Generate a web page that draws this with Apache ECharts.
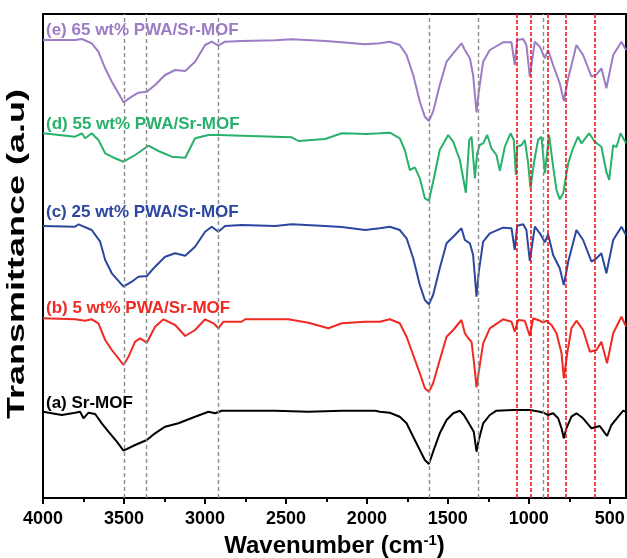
<!DOCTYPE html>
<html><head><meta charset="utf-8">
<script src="https://cdn.jsdelivr.net/npm/echarts@6/dist/echarts.min.js"></script>
<style>html,body{margin:0;padding:0;background:#fff}#c{width:627px;height:558px}</style>
</head><body><div id="c"></div>
<script>
// Wavenumber (cm-1) vs transmittance (a.u., curves vertically offset)
const specA = [[4000,86.3],[3884,83],[3802,85.3],[3771,86.3],[3750,79.7],[3719,85.3],[3678,84],[3637,74.7],[3596,66.3],[3544,56.3],[3503,47.3],[3431,53],[3359,58],[3308,64.7],[3246,71.3],[3164,74.7],[3061,81.3],[2978,86.3],[2937,84.7],[2896,87.3],[2773,87.3],[2567,87.3],[2361,86.3],[2155,87.3],[1949,87.3],[1920,86.3],[1858,85.3],[1797,81.3],[1755,74.7],[1714,61.3],[1673,48],[1642,38],[1617,34],[1591,46.3],[1550,64.7],[1508,78],[1467,84.7],[1426,87.3],[1401,83],[1364,73],[1340,66.3],[1323,46.3],[1309,58],[1282,74.7],[1241,83],[1200,87.3],[1097,88],[994,88],[932,86.3],[901,84.7],[881,83],[850,84.7],[819,79.7],[798,69.7],[784,59.7],[768,69.7],[737,81.3],[706,84.7],[665,79.7],[613,69.7],[562,72],[537,66.3],[517,62],[490,73],[448,81.3],[417,87.3],[400,86.3]];
const specB = [[4000,179.7],[3802,178.7],[3740,177.3],[3699,178.7],[3658,174.7],[3616,158],[3575,148],[3534,139.7],[3503,133],[3472,141.3],[3431,156.3],[3400,159.7],[3359,155.3],[3308,171.3],[3256,178.7],[3184,173],[3122,162],[3061,168],[2999,178.7],[2947,174.7],[2917,169.7],[2886,176.3],[2773,176.3],[2752,178.7],[2567,178.7],[2485,178.7],[2361,175.3],[2238,169.7],[2155,174.7],[2011,176.3],[1920,176.3],[1858,178.7],[1797,174.7],[1755,161.3],[1714,143],[1673,124.7],[1642,109.7],[1617,106.3],[1591,114.7],[1550,138],[1508,161.3],[1467,168],[1416,178],[1395,164.7],[1374,159.7],[1354,156.3],[1338,134.7],[1323,110.7],[1309,126.3],[1282,154.7],[1241,169.7],[1159,178.7],[1107,176.3],[1087,166.3],[1066,178],[1025,177.3],[994,162],[973,179.7],[932,177.3],[912,175.3],[891,177.3],[860,173],[829,164.7],[798,144.7],[784,119.7],[763,144.7],[737,169.7],[706,177.3],[665,168],[623,146.3],[582,148],[552,156.3],[517,134.7],[479,164.7],[428,181.3],[400,171.3]];
const specC = [[4000,272],[3802,271.3],[3781,273.7],[3699,268],[3647,256.3],[3616,238],[3575,224.7],[3503,211.3],[3452,216.3],[3411,221.3],[3359,222],[3308,231.3],[3246,241.3],[3184,244.7],[3122,242.3],[3061,251.3],[2999,266.3],[2958,271.3],[2917,266.3],[2876,272],[2773,273],[2567,272],[2464,273.7],[2258,272],[2155,271],[2011,268],[1920,269.7],[1858,271.3],[1797,268],[1755,259.7],[1714,239.7],[1673,213],[1642,198],[1617,193.7],[1591,203],[1550,229.7],[1508,254.7],[1467,261.3],[1416,269.7],[1395,258],[1364,254.7],[1344,243],[1323,201.3],[1309,226.3],[1282,256.3],[1241,264.7],[1159,270.3],[1107,269.7],[1087,248],[1072,272.3],[1035,273.7],[1015,268],[994,237],[963,271.3],[932,264.7],[901,255.7],[881,263.7],[850,243],[809,229.7],[784,213],[757,236.3],[706,268],[665,258],[613,236.3],[582,239.7],[552,244.7],[521,224.7],[479,258],[428,271.3],[400,263]];
const specD = [[4000,364.7],[3802,361.3],[3760,364.7],[3740,359.7],[3699,364.7],[3658,358],[3616,344.7],[3555,339.7],[3503,336.3],[3431,343],[3349,352.3],[3287,347],[3205,341.3],[3122,340.3],[3092,349.7],[3061,359.7],[2978,363],[2917,363],[2773,362.3],[2567,361.3],[2464,360.7],[2423,357],[2258,359],[2155,364.7],[2000,364],[1920,364.7],[1858,365.3],[1797,359.7],[1766,348],[1735,328],[1704,330.7],[1673,319.7],[1642,299.7],[1617,297.3],[1591,316.3],[1550,348],[1498,363],[1467,356.3],[1426,338],[1389,305.3],[1368,358],[1354,361.3],[1333,319.7],[1319,344.7],[1303,353],[1282,354.7],[1257,363],[1231,349.7],[1200,343],[1179,327.3],[1148,351.3],[1113,364.7],[1093,358],[1080,323],[1072,351.3],[1045,353],[1025,358],[1004,334.7],[990,309.7],[969,334.7],[943,358],[922,361.3],[901,324.7],[875,363],[850,331.3],[829,308],[809,298.7],[788,304.7],[757,334.7],[727,349.7],[696,361.3],[675,354.7],[628,364.7],[593,356.3],[552,351.3],[521,326.3],[504,318],[479,353],[459,350.7],[434,364.7],[400,354.7]];
const specE = [[4000,458],[3802,458],[3760,459],[3699,454.7],[3658,446.3],[3616,429.7],[3575,416.3],[3534,404.7],[3503,395.7],[3452,401.3],[3411,405.3],[3359,406.3],[3308,413],[3246,423],[3184,428],[3122,427],[3061,436.3],[2999,453],[2958,456.3],[2917,452.3],[2876,456.3],[2773,457],[2567,457.7],[2464,458.7],[2258,457],[2155,455.7],[2011,453.7],[1920,454.7],[1858,456.3],[1797,453],[1755,443],[1714,423],[1673,396.3],[1642,381.3],[1617,377],[1591,386.3],[1550,413],[1508,436.3],[1467,444.7],[1416,454.7],[1395,448],[1364,439.7],[1344,423],[1323,385.7],[1309,406.3],[1282,436.3],[1241,448],[1159,455.7],[1107,455.7],[1087,433],[1072,458],[1035,459],[1015,453],[994,421.3],[963,456.3],[932,451.3],[901,439.7],[881,448],[850,433],[809,414.7],[784,397],[757,419.7],[706,453],[665,443],[613,421.3],[582,423.7],[552,429.7],[521,409.7],[479,443],[428,456.3],[400,448]];

const seriesLabels = ['(a) Sr-MOF','(b) 5 wt% PWA/Sr-MOF','(c) 25 wt% PWA/Sr-MOF','(d) 55 wt% PWA/Sr-MOF','(e) 65 wt% PWA/Sr-MOF'];
const seriesColors = ['#000000','#ee2a22','#2b479f','#27b16b','#9b7cc5'];
const majorTicks = [4000,3500,3000,2500,2000,1500,1000,500];
const minorTicks = [3750,3250,2750,2250,1750,1250,750];
const grayLines = [3500,3360,2920,1615,1315,912];
const redLines = [1075,988,885,772,590];
const labelTops = [395,300,204,116,22];

const specs = [specA, specB, specC, specD, specE];
const chart = echarts.init(document.getElementById('c'), null, {renderer:'canvas'});
const FONT = 'Liberation Sans, Arial, sans-serif';

const series = specs.map((d,i)=>({
  type:'line', name: seriesLabels[i], data:d, xAxisIndex:0, yAxisIndex:0,
  symbol:'none', smooth:false, z:3,
  lineStyle:{color:seriesColors[i], width:2}, animation:false
}));
series.push({
  type:'line', data:[], xAxisIndex:0, yAxisIndex:0, z:1, animation:false,
  markLine:{symbol:'none', silent:true, animation:false, label:{show:false},
    data: grayLines.map(v=>({xAxis:v, lineStyle:{color:'#8c8c8c', type:[4,3], width:1.4}}))
      .concat(redLines.map(v=>({xAxis:v, lineStyle:{color:'#f01818', type:[4,2], width:1.6}})))
  }
});

const graphics = seriesLabels.map((t,i)=>({
  type:'text', left:46, top:labelTops[i], z:10,
  style:{text:t, fill:seriesColors[i], font:'bold 17px '+FONT}
}));
graphics.push({
  type:'text', x:17, y:254, rotation:Math.PI/2, scaleX:1.5, z:10,
  style:{text:'Transmittance (a.u)', fill:'#000', font:'bold 24px '+FONT, align:'center', verticalAlign:'middle'}
});

chart.setOption({
  animation:false,
  backgroundColor:'#fff',
  grid:{left:43, right:1, top:14, bottom:60, show:true, borderColor:'#000', borderWidth:2, containLabel:false, outerBoundsMode:'none'},
  xAxis:[{
    type:'value', min:400, max:4000, inverse:true, position:'bottom',
    splitLine:{show:false},
    axisLine:{show:true, lineStyle:{color:'#000', width:2}},
    axisTick:{show:true, customValues:majorTicks, length:6, inside:false, lineStyle:{color:'#000', width:2}},
    axisLabel:{show:true, customValues:majorTicks, formatter:v=>String(v), margin:12, color:'#000', fontSize:18, fontWeight:'bold', fontFamily:FONT},
    name:'{n|Wavenumber (cm}{s|-1}{n|)}', nameLocation:'middle', nameGap:33,
    nameTextStyle:{rich:{
      n:{fontSize:24, fontWeight:'bold', fontFamily:FONT, color:'#000', lineHeight:26},
      s:{fontSize:15, fontWeight:'bold', fontFamily:FONT, color:'#000', verticalAlign:'top', lineHeight:26}
    }}
  },{
    type:'value', min:400, max:4000, inverse:true, position:'bottom', gridIndex:0,
    splitLine:{show:false}, axisLine:{show:false}, axisLabel:{show:false},
    axisTick:{show:true, customValues:minorTicks, length:4, lineStyle:{color:'#000', width:2}}
  }],
  yAxis:{type:'value', min:0, max:484, axisLabel:{show:false}, axisTick:{show:false}, splitLine:{show:false},
    axisLine:{show:true, lineStyle:{color:'#000', width:2}}},
  graphic:graphics,
  series:series
});
</script></body></html>
